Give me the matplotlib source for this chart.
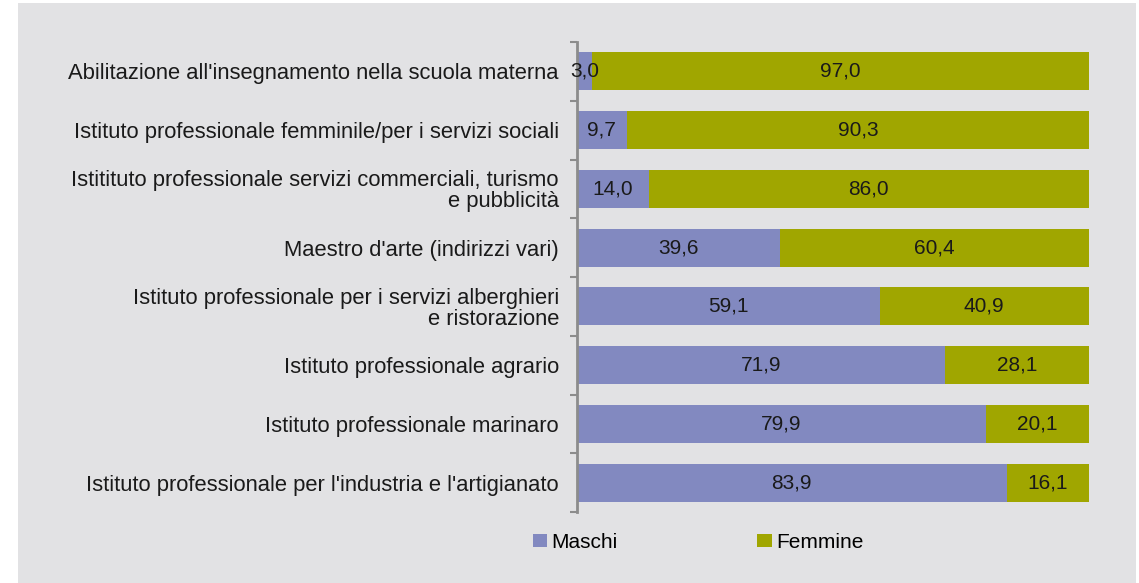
import matplotlib.pyplot as plt
from matplotlib.patches import Rectangle

plt.rcParams['font.family'] = ['Liberation Sans', 'DejaVu Sans']

categories = [
    "Abilitazione all'insegnamento nella scuola materna",
    "Istituto professionale femminile/per i servizi sociali",
    "Istitituto professionale servizi commerciali, turismo\ne pubblicità",
    "Maestro d'arte (indirizzi vari)",
    "Istituto professionale per i servizi alberghieri\ne ristorazione",
    "Istituto professionale agrario",
    "Istituto professionale marinaro",
    "Istituto professionale per l'industria e l'artigianato",
]
maschi = [3.0, 9.7, 14.0, 39.6, 59.1, 71.9, 79.9, 83.9]
femmine = [97.0, 90.3, 86.0, 60.4, 40.9, 28.1, 20.1, 16.1]

c_m = '#8289c0'
c_f = '#a0a600'
bg = '#e2e2e4'

fig = plt.figure(figsize=(11.39, 5.83), dpi=100)
fig.patches.append(Rectangle((18 / 1139, 0), 1118 / 1139, 1 - 3 / 583,
                             transform=fig.transFigure, facecolor=bg,
                             edgecolor='none', zorder=-10))

ax = fig.add_axes([577 / 1139, 1 - 512 / 583, 512 / 1139, 470 / 583])
ax.set_facecolor('none')

y = list(range(len(categories)))
bm = ax.barh(y, maschi, height=0.65, color=c_m, label='Maschi')
bf = ax.barh(y, femmine, left=maschi, height=0.65, color=c_f, label='Femmine')

fmt = lambda v: f'{v:.1f}'.replace('.', ',')
for yi, m, f in zip(y, maschi, femmine):
    ax.text(m / 2, yi, fmt(m), ha='center', va='center', fontsize=15, color='#1a1a1a')
    ax.text(m + f / 2, yi, fmt(f), ha='center', va='center', fontsize=15, color='#1a1a1a')

ax.set_xlim(0, 100)
ax.set_ylim(len(categories) - 0.5, -0.5)
ax.set_yticks(y)
ax.set_yticklabels(categories, fontsize=15.8, color='#1a1a1a', ha='right',
                   linespacing=1.0)
ax.tick_params(axis='y', length=0, pad=13)
ax.set_yticks([i - 0.5 for i in range(len(categories) + 1)], minor=True)
ax.tick_params(axis='y', which='minor', length=5, width=1.5, color='#8c8c8c')
ax.set_xticks([])
for s in ['top', 'right', 'bottom']:
    ax.spines[s].set_visible(False)
ax.spines['left'].set_color('#8c8c8c')
ax.spines['left'].set_linewidth(2)

fig.legend(handles=[bm, bf], loc='center left', bbox_to_anchor=(514 / 1139, 1 - 542 / 583),
           ncol=2, frameon=False, fontsize=15, handlelength=0.7, handleheight=0.6,
           handletextpad=0.2, columnspacing=6.7)

fig.savefig('out.png', dpi=100)
